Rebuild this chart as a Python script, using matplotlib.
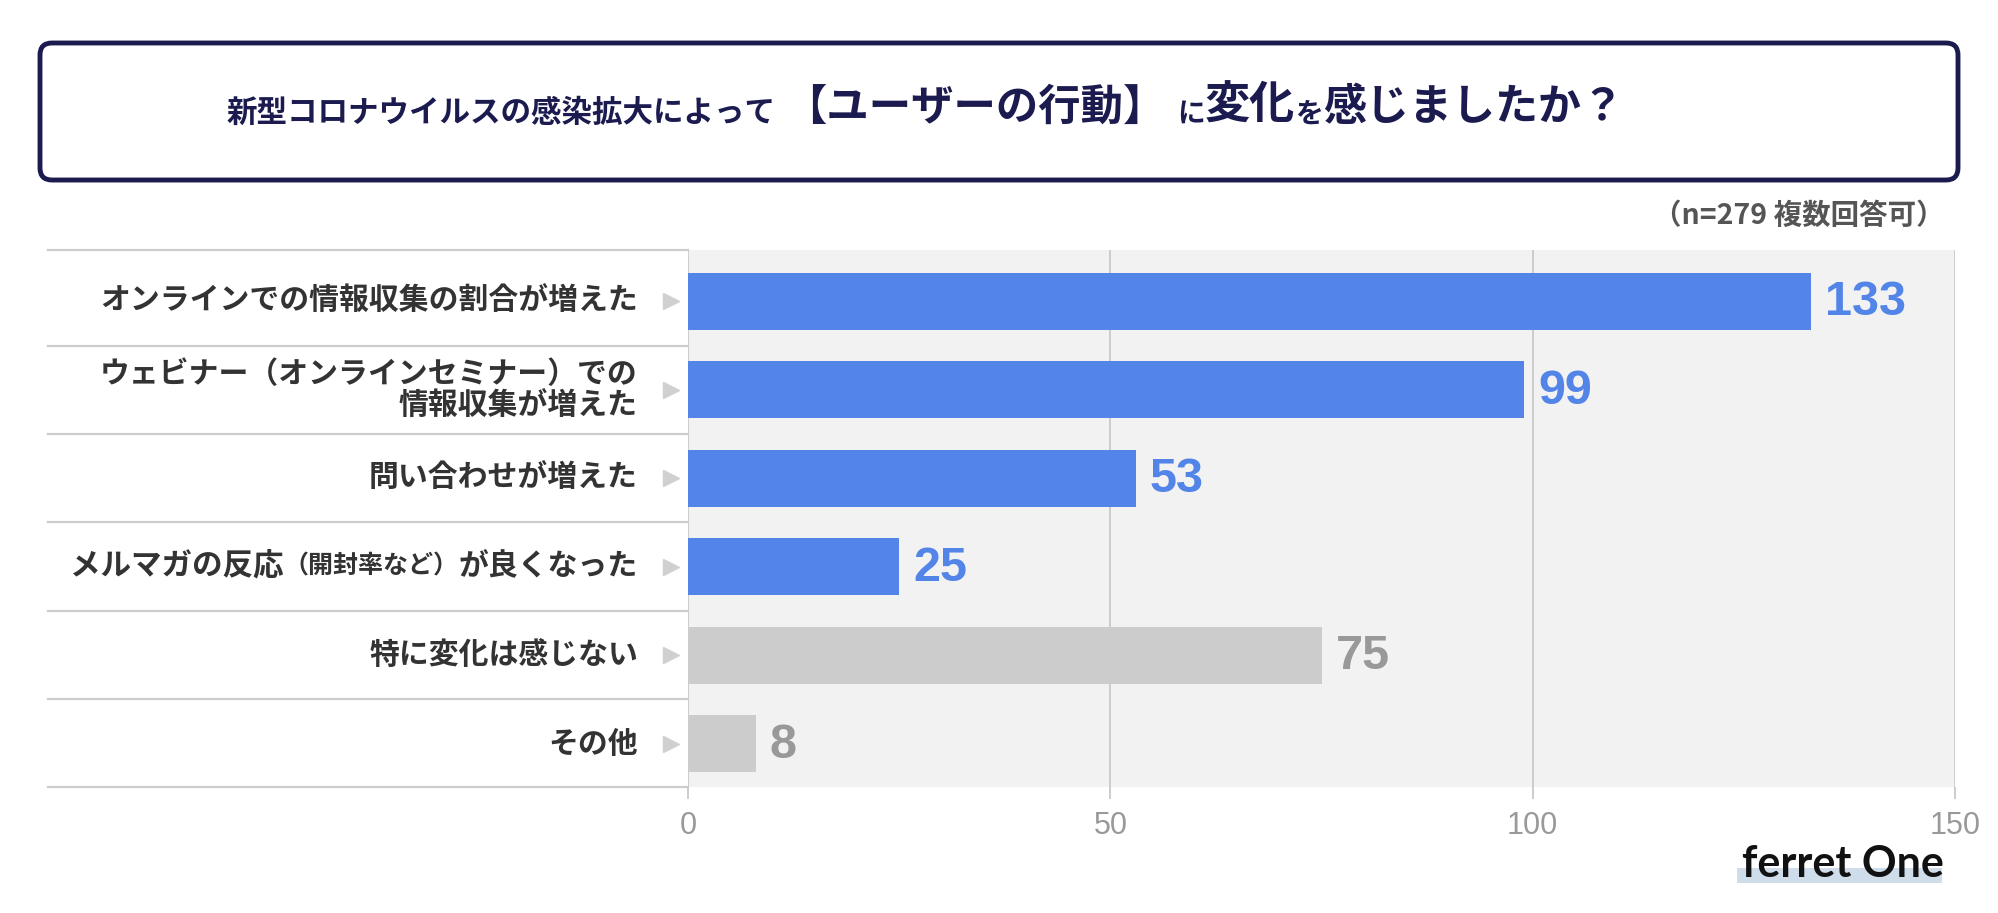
import matplotlib
matplotlib.use("Agg")
import matplotlib.pyplot as plt
from matplotlib import transforms as mtransforms
from matplotlib.patches import FancyBboxPatch, Rectangle

plt.rcParams['font.family'] = ['Noto Sans CJK JP', 'DejaVu Sans']

########################## DATA
categories = ["オンラインでの情報収集の割合が増えた",
              "ウェビナー（オンラインセミナー）での\n情報収集が増えた",
              "問い合わせが増えた",
              "メルマガの反応（開封率など）が良くなった",
              "特に変化は感じない",
              "その他"]
values = [133, 99, 53, 25, 75, 8]
x_ticks = [0, 50, 100, 150]
small_part = "（開封率など）"   # drawn smaller inside its label
note = "（n=279 複数回答可）"
title_parts = ["新型コロナウイルスの感染拡大によって", "【ユーザーの行動】", "に", "変化", "を", "感じましたか？"]
logo = "ferret One"

########################## STYLE
W, H = 1999, 913
NAVY = "#1B1B4F"
BLUE = "#5384E8"
bar_colors = [BLUE] * 4 + ["#CCCCCC"] * 2
value_colors = [BLUE] * 4 + ["#999999"] * 2
title_sizes = [22, 30.5, 20, 32.5, 20, 31]
title_gaps = [0, 8, 12, 0, 0, 0]   # extra pixels before each part
LINE = "#CCCCCC"

fig = plt.figure(figsize=(W / 100, H / 100), dpi=100)

# main bar axes (positions in image pixels)
x0, x1, y0, y1 = 688, 1955, 250, 787
ax = fig.add_axes([x0 / W, 1 - y1 / H, (x1 - x0) / W, (y1 - y0) / H])
ax.set_facecolor("#F2F2F2")
n = len(values)
ypos = list(range(n))
ax.barh(ypos, values, height=0.645, color=bar_colors, zorder=3)
ax.set_xlim(0, 150)
ax.set_ylim(5.49, -0.58)
ax.set_xticks(x_ticks)
ax.set_yticks([])
ax.grid(axis='x', color=LINE, lw=1.4)
ax.set_axisbelow(True)
for s in ax.spines.values():
    s.set_visible(False)
ax.tick_params(axis='x', length=8.6, width=1.4, color=LINE, labelcolor="#999999",
               labelsize=22, pad=9)
for lbl in ax.get_xticklabels():
    lbl.set_fontfamily('Liberation Sans')

for i, v in enumerate(values):
    ax.annotate(str(v), xy=(v, i), xytext=(10, -1), textcoords='offset points',
                va='center', ha='left', fontsize=35, fontweight='bold',
                color=value_colors[i], family='Liberation Sans')

# label column: separators, labels, little arrows
lab = mtransforms.blended_transform_factory(ax.transAxes, ax.transData)
left_edge = (48 - x0) / (x1 - x0)
label_x = (638 - x0) / (x1 - x0)
arrow_x = (671 - x0) / (x1 - x0)
ylo, yhi = ax.get_ylim()
edges = [yhi] + [k + 0.5 for k in range(n - 1)] + [ylo]
for e in edges:
    ax.plot([left_edge, 0], [e, e], transform=lab, color=LINE, lw=1.6, clip_on=False)

for i, c in enumerate(categories):
    ax.plot([arrow_x], [i], transform=lab, marker='>', ms=11, color="#D0D0D0",
            clip_on=False, ls='none')
    kw = dict(color="#333333", fontweight='bold', va='center')
    if small_part in c:
        head, tail = c.split(small_part)
        t = ax.text(label_x, i, tail, transform=lab, ha='right', fontsize=21.5, **kw)
        t = ax.annotate(small_part, xy=(0, 0.5), xycoords=t, ha='right', fontsize=18, **kw)
        ax.annotate(head, xy=(0, 0.5), xycoords=t, ha='right', fontsize=22, **kw)
    else:
        ax.text(label_x, i, c, transform=lab, ha='right', fontsize=21.5,
                multialignment='right', linespacing=1.1, **kw)

# overlay in image pixel coordinates for title box, note and logo
ov = fig.add_axes([0, 0, 1, 1])
ov.set_xlim(0, W)
ov.set_ylim(H, 0)
ov.axis('off')

box = FancyBboxPatch((40, 43), 1918, 137, boxstyle="round,pad=0,rounding_size=12",
                     fc="white", ec=NAVY, lw=3.5)
ov.add_patch(box)
ov.plot([52, 1946], [181.5, 181.5], color=NAVY, lw=1.5, solid_capstyle='butt')

t = ov.text(227, 129, title_parts[0], fontsize=title_sizes[0], fontweight='bold',
            color=NAVY, va='bottom', ha='left')
for part, size, gap in zip(title_parts[1:], title_sizes[1:], title_gaps[1:]):
    t = ov.annotate(part, xy=(1, 0), xycoords=t, xytext=(gap, 0),
                    textcoords='offset pixels', fontsize=size, fontweight='bold',
                    color=NAVY, va='bottom', ha='left')

ov.text(1945, 216, note, ha='right', va='center', fontsize=20.5, color="#555555",
        fontweight='bold')

ov.add_patch(Rectangle((1737, 868), 205, 15, fc="#CFDCEA", ec='none'))
ov.text(1742, 877, logo, ha='left', va='baseline', fontsize=31, fontweight='bold',
        family='Lato', color="#111111")

fig.savefig("out.png", dpi=100, facecolor="white")
